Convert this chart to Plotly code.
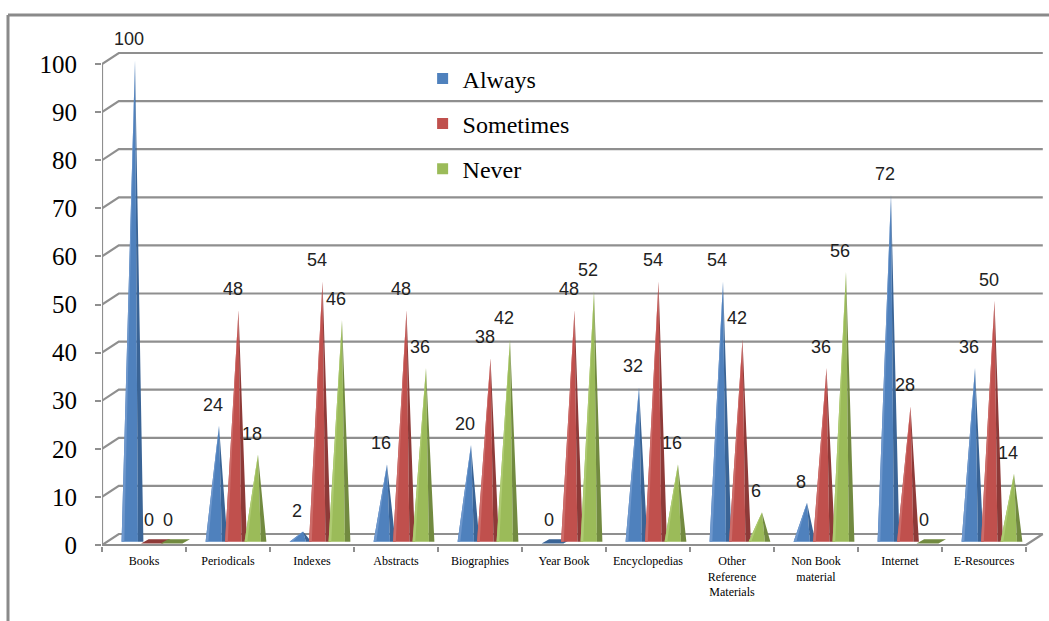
import plotly.graph_objects as go

# Survey responses (%) by type of reading material
categories = ["Books", "Periodicals", "Indexes", "Abstracts", "Biographies", "Year Book",
              "Encyclopedias", "Other<br>Reference<br>Materials", "Non Book<br>material",
              "Internet", "E-Resources"]
always = [100, 24, 2, 16, 20, 0, 32, 54, 8, 72, 36]
sometimes = [0, 48, 54, 48, 38, 48, 54, 42, 36, 28, 50]
never = [0, 18, 46, 36, 42, 52, 16, 6, 56, 0, 14]
y_ticks = list(range(0, 101, 10))

series = [
    ("Always", always, "#4F81BD", "#3A6496", "#6E97CC"),
    ("Sometimes", sometimes, "#C0504D", "#8E3A38", "#CC6C69"),
    ("Never", never, "#9BBB59", "#728A40", "#AECB72"),
]

# pseudo-3D geometry (data units)
DX, DY = 0.2, 2.29          # depth offset of back wall
SPACING = 0.232             # distance between cones in a group
GROUP_SHIFT = 0.095         # cones sit mid-depth
HW = 0.13                   # cone half-width
BASE = 0.7                  # cone base above floor
LIFT = 0.8                  # tip lift for mid-depth
GRID = "#8F8F8F"
n = len(categories)

fig = go.Figure()

# back wall gridlines with their perspective connectors
gx, gy = [], []
for v in y_ticks:
    gx += [-0.5, -0.5 + DX, n - 0.5 + DX, None]
    gy += [v, v + DY, v + DY, None]
# floor front edge and right side
gx += [-0.5, n - 0.5, n - 0.5 + DX, None]
gy += [0, 0, DY, None]
# front value axis
gx += [-0.5, -0.5]
gy += [0, 100]
fig.add_trace(go.Scatter(x=gx, y=gy, mode="lines", line=dict(color=GRID, width=2.2),
                         hoverinfo="skip", showlegend=False, cliponaxis=False))

annotations = []
for k, (name, vals, col, dark, light) in enumerate(series):
    off = GROUP_SHIFT + (k - 1) * SPACING
    mx, my, dxs, dys, lx, ly = [], [], [], [], [], []
    for i, v in enumerate(vals):
        cx = i + off
        if v == 0:
            # flat wedge lying on the floor
            dxs += [cx - HW, cx + HW, cx + HW + 0.09, cx - HW + 0.09, None]
            dys += [BASE - 0.4, BASE - 0.4, BASE + 0.5, BASE + 0.5, None]
        else:
            tip_x, tip_y = cx + 0.03, v + LIFT
            mx += [cx - HW, tip_x, cx + 0.5 * HW, None]
            my += [BASE, tip_y, BASE, None]
            dxs += [cx + 0.5 * HW, tip_x, cx + HW, None]
            dys += [BASE, tip_y, BASE, None]
            lx += [cx - HW, tip_x, cx - 0.75 * HW, None]
            ly += [BASE, tip_y, BASE, None]
        annotations.append(dict(x=cx - 0.04, y=v + LIFT, xref="x", yref="y", text=str(v),
                                showarrow=False, yanchor="middle", yshift=21,
                                font=dict(family="Liberation Sans", size=18, color="#222222")))
    for xs, ys, c in [(mx, my, col), (lx, ly, light), (dxs, dys, dark)]:
        if xs:
            fig.add_trace(go.Scatter(x=xs, y=ys, mode="lines", fill="toself", fillcolor=c,
                                     line=dict(width=0, color=c), hoverinfo="skip",
                                     showlegend=False, cliponaxis=False))
    # legend entry
    fig.add_trace(go.Scatter(x=[None], y=[None], name=name, mode="markers",
                             marker=dict(symbol="square", size=11, color=col),
                             legendgroup=name, showlegend=True))

frame_x = (8 - 102) / 943
frame_top = (546 - 15) / 526

fig.update_layout(
    width=1049, height=621,
    margin=dict(l=102, r=4, t=20, b=75),
    paper_bgcolor="white", plot_bgcolor="white",
    showlegend=True,
    legend=dict(x=0.34, y=0.931, xanchor="left", yanchor="top", bgcolor="rgba(0,0,0,0)",
                font=dict(family="Liberation Serif", size=24, color="#000"),
                tracegroupgap=11, itemwidth=30),
    annotations=annotations,
    shapes=[
        # outer frame (left and top edges)
        dict(type="line", xref="paper", yref="paper", x0=frame_x, x1=frame_x,
             y0=frame_top, y1=(546 - 625) / 526, line=dict(color="#8A8A8A", width=3)),
        dict(type="line", xref="paper", yref="paper", x0=frame_x, x1=(1052 - 102) / 943,
             y0=frame_top, y1=frame_top, line=dict(color="#8A8A8A", width=3)),
    ],
    xaxis=dict(type="linear", range=[-0.5, -0.5 + 943 / 84], showgrid=False, zeroline=False,
               showline=False, tickmode="array", tickvals=list(range(n)), ticktext=categories,
               ticks="", ticklabelstandoff=6,
               tickfont=dict(family="Liberation Serif", size=12, color="#000"),
               minor=dict(tickmode="linear", tick0=-0.5, dtick=1, ticks="outside", ticklen=5,
                          tickwidth=2, tickcolor=GRID, showgrid=False)),
    yaxis=dict(range=[-1 / 4.81, 525 / 4.81], showgrid=False, zeroline=False, showline=False,
               tickmode="array", tickvals=y_ticks, ticks="outside", ticklen=6, tickwidth=2,
               tickcolor=GRID, ticklabelstandoff=13,
               tickfont=dict(family="Liberation Serif", size=25, color="#000")),
)

fig.write_html("out.html")
